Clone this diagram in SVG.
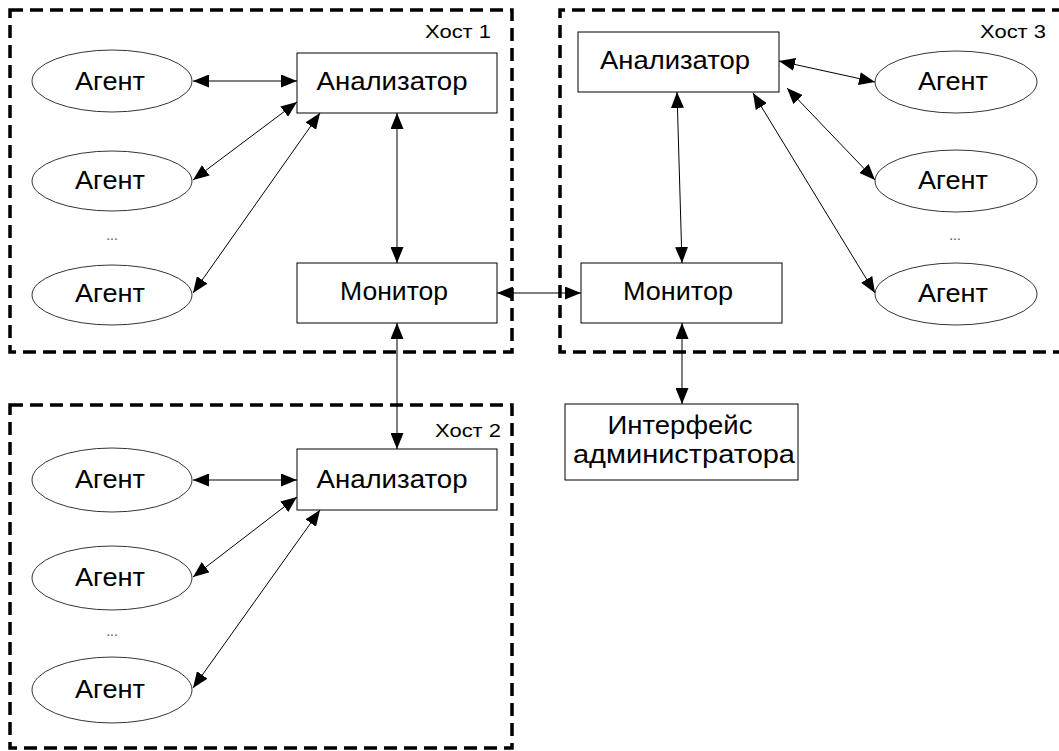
<svg xmlns="http://www.w3.org/2000/svg" width="1059" height="751" viewBox="0 0 1059 751">
<style>
.host{fill:none;stroke:#000;stroke-width:3.5;stroke-dasharray:13 7}
.box{fill:#fff;stroke:#000;stroke-width:1}
.ag{fill:#fff;stroke:#000;stroke-width:0.8}
.lbl{font-family:"Liberation Sans",Arial,sans-serif;font-size:25px;text-anchor:middle;fill:#000}
.hl{font-family:"Liberation Sans",Arial,sans-serif;font-size:19px;text-anchor:end;fill:#000}
.dots{font-family:"Liberation Sans",Arial,sans-serif;font-size:14px;text-anchor:middle;fill:#555}
.c{stroke:#000;stroke-width:1;fill:none;marker-start:url(#a);marker-end:url(#a)}
</style>
<defs>
<marker id="a" viewBox="0 0 16 13" refX="16" refY="6.5" markerWidth="16" markerHeight="13" markerUnits="userSpaceOnUse" orient="auto-start-reverse">
<path d="M0,0 L16,6.5 L0,13 Z" fill="#000"/>
</marker>
</defs>
<rect width="1059" height="751" fill="#fff"/>
<g id="host1">
<rect class="host" x="10" y="10" width="502" height="342"/>
<text class="hl" x="491" y="38" textLength="66" lengthAdjust="spacingAndGlyphs">Хост 1</text>
</g>
<g id="host3">
<path class="host" d="M1065,10 H560 V352 H1065"/>
<text class="hl" x="1046" y="38" textLength="66" lengthAdjust="spacingAndGlyphs">Хост 3</text>
</g>
<g id="host2">
<rect class="host" x="10" y="405" width="502" height="343"/>
<text class="hl" x="501" y="437" textLength="66" lengthAdjust="spacingAndGlyphs">Хост 2</text>
</g>
<g id="connectors">
<line class="c" x1="193" y1="81" x2="297" y2="81"/>
<line class="c" x1="193" y1="180" x2="297" y2="102"/>
<line class="c" x1="193" y1="293" x2="320" y2="113"/>
<line class="c" x1="397" y1="113" x2="397" y2="263"/>
<line class="c" x1="497" y1="293" x2="581" y2="293"/>
<line class="c" x1="397" y1="323" x2="397" y2="449"/>
<line class="c" x1="682" y1="323" x2="682" y2="404"/>
<line class="c" x1="677" y1="92" x2="682" y2="263"/>
<line class="c" x1="779" y1="61" x2="875" y2="82"/>
<line class="c" x1="787" y1="88" x2="875" y2="180"/>
<line class="c" x1="753" y1="93" x2="875" y2="293"/>
<line class="c" x1="193" y1="480" x2="297" y2="480"/>
<line class="c" x1="193" y1="577" x2="297" y2="497"/>
<line class="c" x1="193" y1="688" x2="320" y2="510"/>
</g>
<g id="h1-analyzer"><rect class="box" x="297" y="53" width="200" height="60"/><text class="lbl" x="392" y="90" textLength="151" lengthAdjust="spacingAndGlyphs">Анализатор</text></g>
<g id="h1-monitor"><rect class="box" x="297" y="263" width="200" height="60"/><text class="lbl" x="394" y="300" textLength="108" lengthAdjust="spacingAndGlyphs">Монитор</text></g>
<g id="h1-agent1"><ellipse class="ag" cx="112" cy="81" rx="80" ry="31"/><text class="lbl" x="110" y="90" textLength="70" lengthAdjust="spacingAndGlyphs">Агент</text></g>
<g id="h1-agent2"><ellipse class="ag" cx="112" cy="181" rx="80" ry="30"/><text class="lbl" x="110" y="189" textLength="70" lengthAdjust="spacingAndGlyphs">Агент</text></g>
<g id="h1-dots"><text class="dots" x="112" y="240">...</text></g>
<g id="h1-agent3"><ellipse class="ag" cx="112" cy="295" rx="80" ry="30"/><text class="lbl" x="110" y="302" textLength="70" lengthAdjust="spacingAndGlyphs">Агент</text></g>
<g id="h3-analyzer"><rect class="box" x="578" y="32" width="201" height="60"/><text class="lbl" x="675" y="69" textLength="150" lengthAdjust="spacingAndGlyphs">Анализатор</text></g>
<g id="h3-monitor"><rect class="box" x="581" y="263" width="201" height="60"/><text class="lbl" x="678" y="300" textLength="110" lengthAdjust="spacingAndGlyphs">Монитор</text></g>
<g id="h3-agent1"><ellipse class="ag" cx="956" cy="82" rx="81" ry="31"/><text class="lbl" x="953" y="90" textLength="70" lengthAdjust="spacingAndGlyphs">Агент</text></g>
<g id="h3-agent2"><ellipse class="ag" cx="956" cy="181" rx="81" ry="31"/><text class="lbl" x="953" y="189" textLength="70" lengthAdjust="spacingAndGlyphs">Агент</text></g>
<g id="h3-dots"><text class="dots" x="955" y="240">...</text></g>
<g id="h3-agent3"><ellipse class="ag" cx="956" cy="294" rx="81" ry="31"/><text class="lbl" x="953" y="302" textLength="70" lengthAdjust="spacingAndGlyphs">Агент</text></g>
<g id="h2-analyzer"><rect class="box" x="297" y="449" width="200" height="61"/><text class="lbl" x="392" y="488" textLength="151" lengthAdjust="spacingAndGlyphs">Анализатор</text></g>
<g id="h2-agent1"><ellipse class="ag" cx="112" cy="480" rx="80" ry="32"/><text class="lbl" x="110" y="488" textLength="70" lengthAdjust="spacingAndGlyphs">Агент</text></g>
<g id="h2-agent2"><ellipse class="ag" cx="112" cy="578" rx="80" ry="32"/><text class="lbl" x="110" y="586" textLength="70" lengthAdjust="spacingAndGlyphs">Агент</text></g>
<g id="h2-dots"><text class="dots" x="112" y="636">...</text></g>
<g id="h2-agent3"><ellipse class="ag" cx="112" cy="690" rx="80" ry="33"/><text class="lbl" x="110" y="698" textLength="70" lengthAdjust="spacingAndGlyphs">Агент</text></g>
<g id="admin"><rect class="box" x="565" y="404" width="233" height="76"/><text class="lbl" x="680" y="434" textLength="145" lengthAdjust="spacingAndGlyphs">Интерфейс</text><text class="lbl" x="684" y="463" textLength="222" lengthAdjust="spacingAndGlyphs">администратора</text></g>
</svg>
